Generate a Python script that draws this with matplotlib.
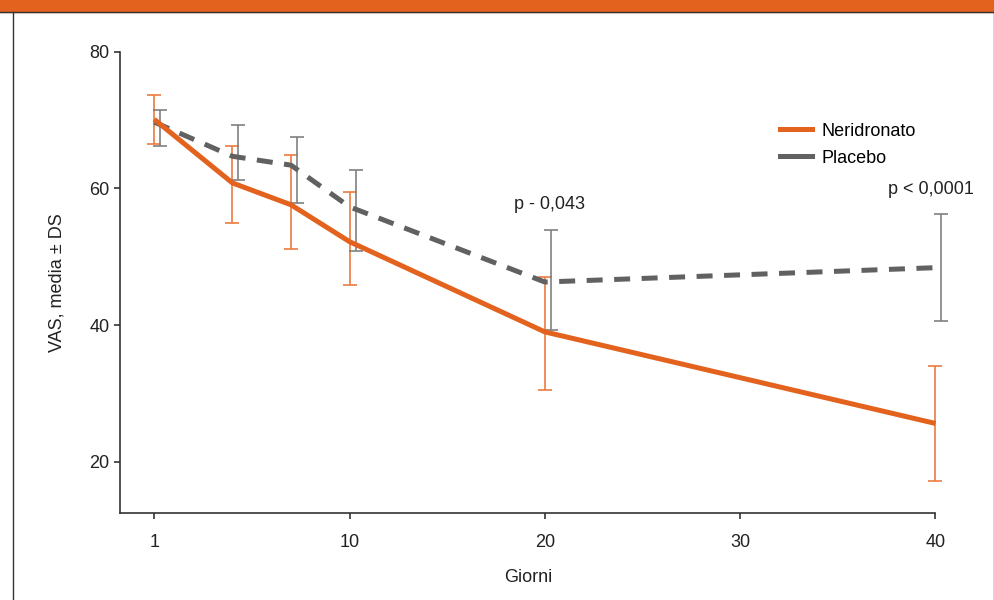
import matplotlib
matplotlib.use("Agg")
import matplotlib.pyplot as plt
import matplotlib.transforms as mtransforms
from matplotlib.patches import Rectangle
from matplotlib.lines import Line2D
import numpy as np

plt.rcParams['font.family'] = ['Liberation Sans Narrow', 'Liberation Sans', 'DejaVu Sans']

# dati (il primo punto, giorno "1", sta all'origine dell'asse)
giorni = [0, 4, 7, 10, 20, 40]
neri_media = [70.1, 60.8, 57.6, 52.2, 39.0, 25.6]
neri_alto = [73.7, 66.2, 64.9, 59.4, 47.1, 34.0]
neri_basso = [66.5, 54.9, 51.1, 45.9, 30.5, 17.2]
plac_media = [69.7, 64.7, 63.4, 57.3, 46.3, 48.4]
plac_alto = [71.5, 69.3, 67.5, 62.7, 53.9, 56.2]
plac_basso = [66.2, 61.2, 57.8, 50.9, 39.3, 40.6]
xticks = [0, 10, 20, 30, 40]
xlabels = ['1', '10', '20', '30', '40']
yticks = [20, 40, 60, 80]

ARANCIO = '#E2621E'
ARANCIO_CHIARO = '#EC7A3F'
GRIGIO = '#616161'
GRIGIO_BARRE = '#808080'
FS = 13

fig = plt.figure(figsize=(9.95, 6), dpi=100)
ax = fig.add_axes([0.1211, 0.145, 0.9402 - 0.1211, 0.9138 - 0.145])

nm = np.array(neri_media)
pm = np.array(plac_media)
neri_err = [nm - np.array(neri_basso), np.array(neri_alto) - nm]
plac_err = [pm - np.array(plac_basso), np.array(plac_alto) - pm]

# barre del placebo leggermente spostate a destra
off = mtransforms.ScaledTranslation(6 / 100, 0, fig.dpi_scale_trans)

e1 = ax.errorbar(giorni, nm, yerr=neri_err, fmt='none', ecolor=ARANCIO_CHIARO,
                 elinewidth=1.2, capsize=5, capthick=1.2, zorder=2)
e2 = ax.errorbar(giorni, pm, yerr=plac_err, fmt='none', ecolor=GRIGIO_BARRE,
                 elinewidth=1.2, capsize=5, capthick=1.2, zorder=2,
                 transform=ax.transData + off)
for art in e1.get_children() + e2.get_children():
    art.set_clip_on(False)

ax.plot(giorni, pm, color=GRIGIO, lw=3.6, ls=(0, (3.2, 2.3)), zorder=3,
        dash_capstyle='butt', clip_on=False)
ax.plot(giorni, nm, color=ARANCIO, lw=3.6, zorder=4, solid_capstyle='butt', clip_on=False)

ax.set_xlim(-1.73, 40)
ax.set_ylim(12.5, 80)
ax.set_xticks(xticks)
ax.set_xticklabels(xlabels)
ax.set_yticks(yticks)
for s in ['top', 'right']:
    ax.spines[s].set_visible(False)
for s in ['left', 'bottom']:
    ax.spines[s].set_color('#333333')
    ax.spines[s].set_linewidth(1.2)
ax.tick_params(colors='#333333', labelcolor='#222222', labelsize=FS,
               length=4, width=1.2)
ax.tick_params(axis='x', pad=11)
ax.tick_params(axis='y', pad=4)

ax.set_xlabel('Giorni', fontsize=FS, color='#222222', labelpad=13)
ax.set_ylabel('VAS, media ± DS', fontsize=FS, color='#222222', labelpad=17)

ax.text(20.26, 57.6, 'p - 0,043', ha='center', va='center', fontsize=FS, color='#222222')
ax.text(39.75, 59.8, 'p < 0,0001', ha='center', va='center', fontsize=FS, color='#222222')

handles = [Line2D([], [], color=ARANCIO, lw=3.6),
           Line2D([], [], color=GRIGIO, lw=3.6)]
ax.legend(handles, ['Neridronato', 'Placebo'], loc='upper left',
          bbox_to_anchor=(0.80, 0.862), borderaxespad=0, frameon=False, fontsize=FS,
          handlelength=1.77, handletextpad=0.55, labelspacing=0.55)

# barra arancione in alto e cornice
fig.patches.append(Rectangle((0, 1 - 11.5 / 600), 1, 11.5 / 600, transform=fig.transFigure,
                             color=ARANCIO, zorder=0))
fig.add_artist(Line2D([0, 1], [1 - 11.5 / 600] * 2, transform=fig.transFigure, color='#333333', lw=1))
fig.add_artist(Line2D([12.5 / 995] * 2, [0, 1 - 11.5 / 600], transform=fig.transFigure, color='#333333', lw=1))
fig.add_artist(Line2D([994 / 995] * 2, [0, 1 - 11.5 / 600], transform=fig.transFigure, color='#333333', lw=1))

fig.savefig('out.png', dpi=100)
